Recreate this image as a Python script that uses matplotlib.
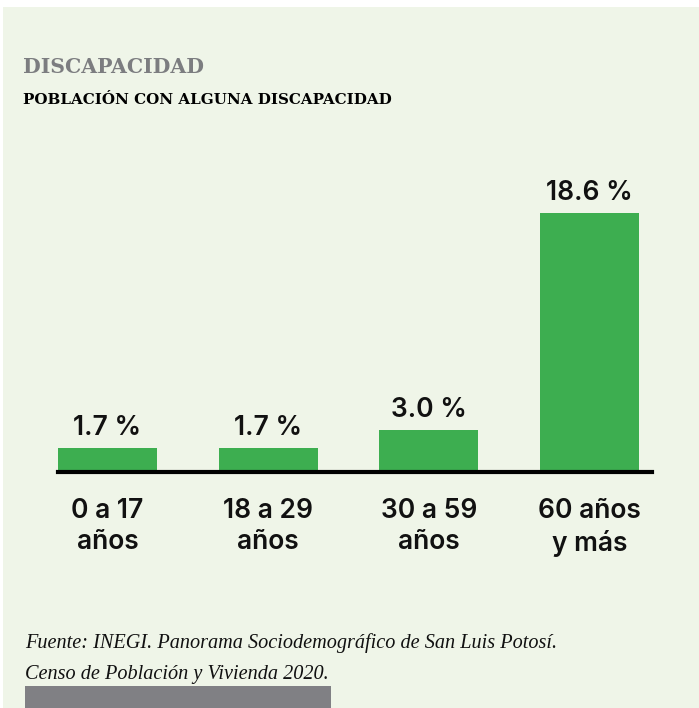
import matplotlib
matplotlib.use("Agg")
import matplotlib.pyplot as plt
from matplotlib.patches import Rectangle

categories = ["0 a 17\naños", "18 a 29\naños", "30 a 59\naños", "60 años\ny más"]
values = [1.7, 1.7, 3.0, 18.6]
value_labels = ["1.7 %", "1.7 %", "3.0 %", "18.6 %"]

title = "DISCAPACIDAD"
subtitle = "POBLACIÓN CON ALGUNA DISCAPACIDAD"
source_lines = ["Fuente: INEGI. Panorama Sociodemográfico de San Luis Potosí.",
                "Censo de Población y Vivienda 2020."]

W, H = 699, 708
BG = "#eff5e8"
GREEN = "#3dae50"
GRAY = "#808084"

fig = plt.figure(figsize=(W / 100, H / 100), dpi=100, facecolor="white")

def fx(px):
    return px / W

def fy(py):
    return 1 - py / H

# background panel
fig.patches.append(Rectangle((fx(3), 0), 1 - fx(3), fy(7), transform=fig.transFigure,
                             facecolor=BG, edgecolor="none", zorder=-10))
# gray strip at bottom
fig.patches.append(Rectangle((fx(25), 0), fx(331) - fx(25), fy(686), transform=fig.transFigure,
                             facecolor=GRAY, edgecolor="none", zorder=-5))

fig.text(fx(23), fy(73), title, fontsize=14.7, fontweight="heavy", family="DejaVu Serif",
         color="#7c7d80", ha="left", va="baseline")
fig.text(fx(23), fy(104), subtitle, fontsize=10.9, fontweight="heavy", family="DejaVu Serif",
         color="#000000", ha="left", va="baseline")
fig.text(fx(25), fy(648), source_lines[0], fontsize=14.6, style="italic", family="Liberation Serif",
         color="#111111", ha="left", va="baseline")
fig.text(fx(25), fy(679), source_lines[1], fontsize=14.6, style="italic", family="Liberation Serif",
         color="#111111", ha="left", va="baseline")

# axes: x from 58 to 652 px, y from 213 (value 18.6) to 472 (0)
ax = fig.add_axes([fx(58), fy(472), fx(652) - fx(58), fy(213) - fy(472)])
ax.set_facecolor("none")
bw = 0.616
x = list(range(len(values)))
ax.bar(x, values, width=bw, color=GREEN, zorder=2)
ax.set_xlim(-bw / 2, 3.697 - bw / 2)
ax.set_ylim(0, 18.6)
for s in ["top", "right", "left"]:
    ax.spines[s].set_visible(False)
ax.spines["bottom"].set_linewidth(3)
ax.spines["bottom"].set_color("black")
ax.spines["bottom"].set_zorder(3)
ax.set_yticks([])
ax.set_xticks(x)
ax.set_xticklabels(categories, fontsize=19, family="Inter", fontweight="semibold",
                   color="#111111", linespacing=1.25)
ax.tick_params(axis="x", length=0, pad=19)

for xi, v, lab in zip(x, values, value_labels):
    ax.annotate(lab, (xi, v), xytext=(0, 9.5), textcoords="offset points",
                ha="center", va="baseline", fontsize=19, family="Inter",
                fontweight="semibold", color="#111111", annotation_clip=False)

fig.savefig("out.png", dpi=100, facecolor="white")
